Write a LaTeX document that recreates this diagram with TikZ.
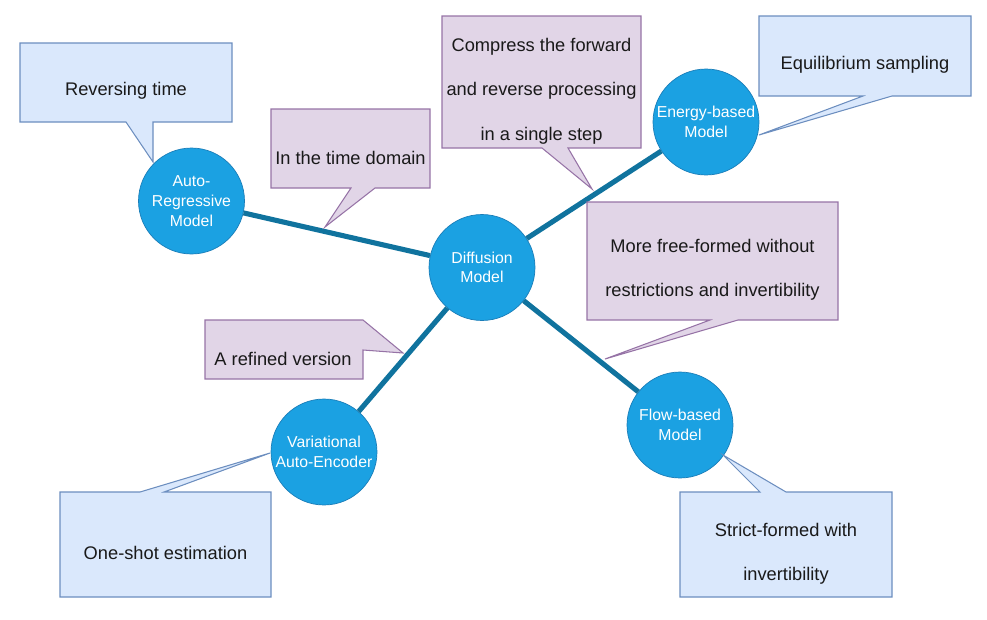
\documentclass[tikz,border=0pt]{standalone}
\usepackage{fontspec}
\setmainfont{Liberation Sans}
\usetikzlibrary{positioning}

\definecolor{modelfill}{HTML}{1BA1E2}
\definecolor{modeledge}{HTML}{1A7DB8}
\definecolor{linkcol}{HTML}{10739E}
\definecolor{bluefill}{HTML}{DAE8FC}
\definecolor{blueedge}{HTML}{6C8EBF}
\definecolor{purpfill}{HTML}{E1D5E7}
\definecolor{purpedge}{HTML}{9673A6}

\tikzset{
	model/.style={circle, draw=modeledge, fill=modelfill, text=white, minimum size=2.12cm, inner sep=0pt, align=center, font=\fontsize{9}{11.2}\selectfont},
	link/.style={draw=linkcol, line width=2.9pt},
	bluecall/.style={draw=blueedge, fill=bluefill, line width=0.6pt},
	purpcall/.style={draw=purpedge, fill=purpfill, line width=0.6pt},
	calltext/.style={align=center, text=black!90, inner sep=0pt, font=\fontsize{10.4}{25.2}\selectfont}
}

\begin{document}
\begin{tikzpicture}[x=0.02cm, y=-0.02cm]
	\useasboundingbox (0,0) rectangle (987,619);
	\node[model] (diff) at (482,267.5) {Diffusion\\Model};
	\node[model] (ar) at (191.5,201) {Auto-\\Regressive\\Model};
	\node[model] (eb) at (706,122) {Energy-based\\Model};
	\node[model] (vae) at (324,452) {Variational\\Auto-Encoder};
	\node[model] (fb) at (680,425) {Flow-based\\Model};
	\draw[link] (diff) -- (ar);
	\draw[link] (diff) -- (eb);
	\draw[link] (diff) -- (vae);
	\draw[link] (diff) -- (fb);
	\filldraw[bluecall] (20,43) -- (232,43) -- (232,122) -- (153,122) -- (153,162) -- (126,122) -- (20,122) -- cycle;
	\node[calltext] (rev) at (126,91) {Reversing time};
	\filldraw[purpcall] (271,109) -- (430,109) -- (430,188) -- (375,188) -- (325,227) -- (351,188) -- (271,188) -- cycle;
	\node[calltext] (time) at (350.5,158) {In the time domain};
	\filldraw[purpcall] (442,16) -- (641,16) -- (641,148) -- (568,148) -- (592,189) -- (542,148) -- (442,148) -- cycle;
	\node[calltext] (comp) at (541.5,91) {Compress the forward\\and reverse processing\\in a single step};
	\filldraw[bluecall] (759,16) -- (971,16) -- (971,96) -- (892,96) -- (759,135) -- (863,96) -- (759,96) -- cycle;
	\node[calltext] (equi) at (865,65) {Equilibrium sampling};
	\filldraw[purpcall] (587,202) -- (838,202) -- (838,320) -- (738,320) -- (605,359) -- (710,320) -- (587,320) -- cycle;
	\node[calltext] (free) at (712.5,269.5) {More free-formed without\\restrictions and invertibility};
	\filldraw[purpcall] (205,320) -- (363,320) -- (403,353) -- (363,350) -- (363,379) -- (205,379) -- cycle;
	\node[calltext] (refine) at (283,359) {A refined version};
	\filldraw[bluecall] (60,492) -- (140,492) -- (270,453) -- (164,492) -- (271,492) -- (271,597) -- (60,597) -- cycle;
	\node[calltext] (shot) at (165.5,553) {One-shot estimation};
	\filldraw[bluecall] (680,492) -- (760,492) -- (723,455) -- (786,492) -- (892,492) -- (892,597) -- (680,597) -- cycle;
	\node[calltext] (strict) at (786,553.5) {Strict-formed with\\invertibility};
\end{tikzpicture}
\end{document}
